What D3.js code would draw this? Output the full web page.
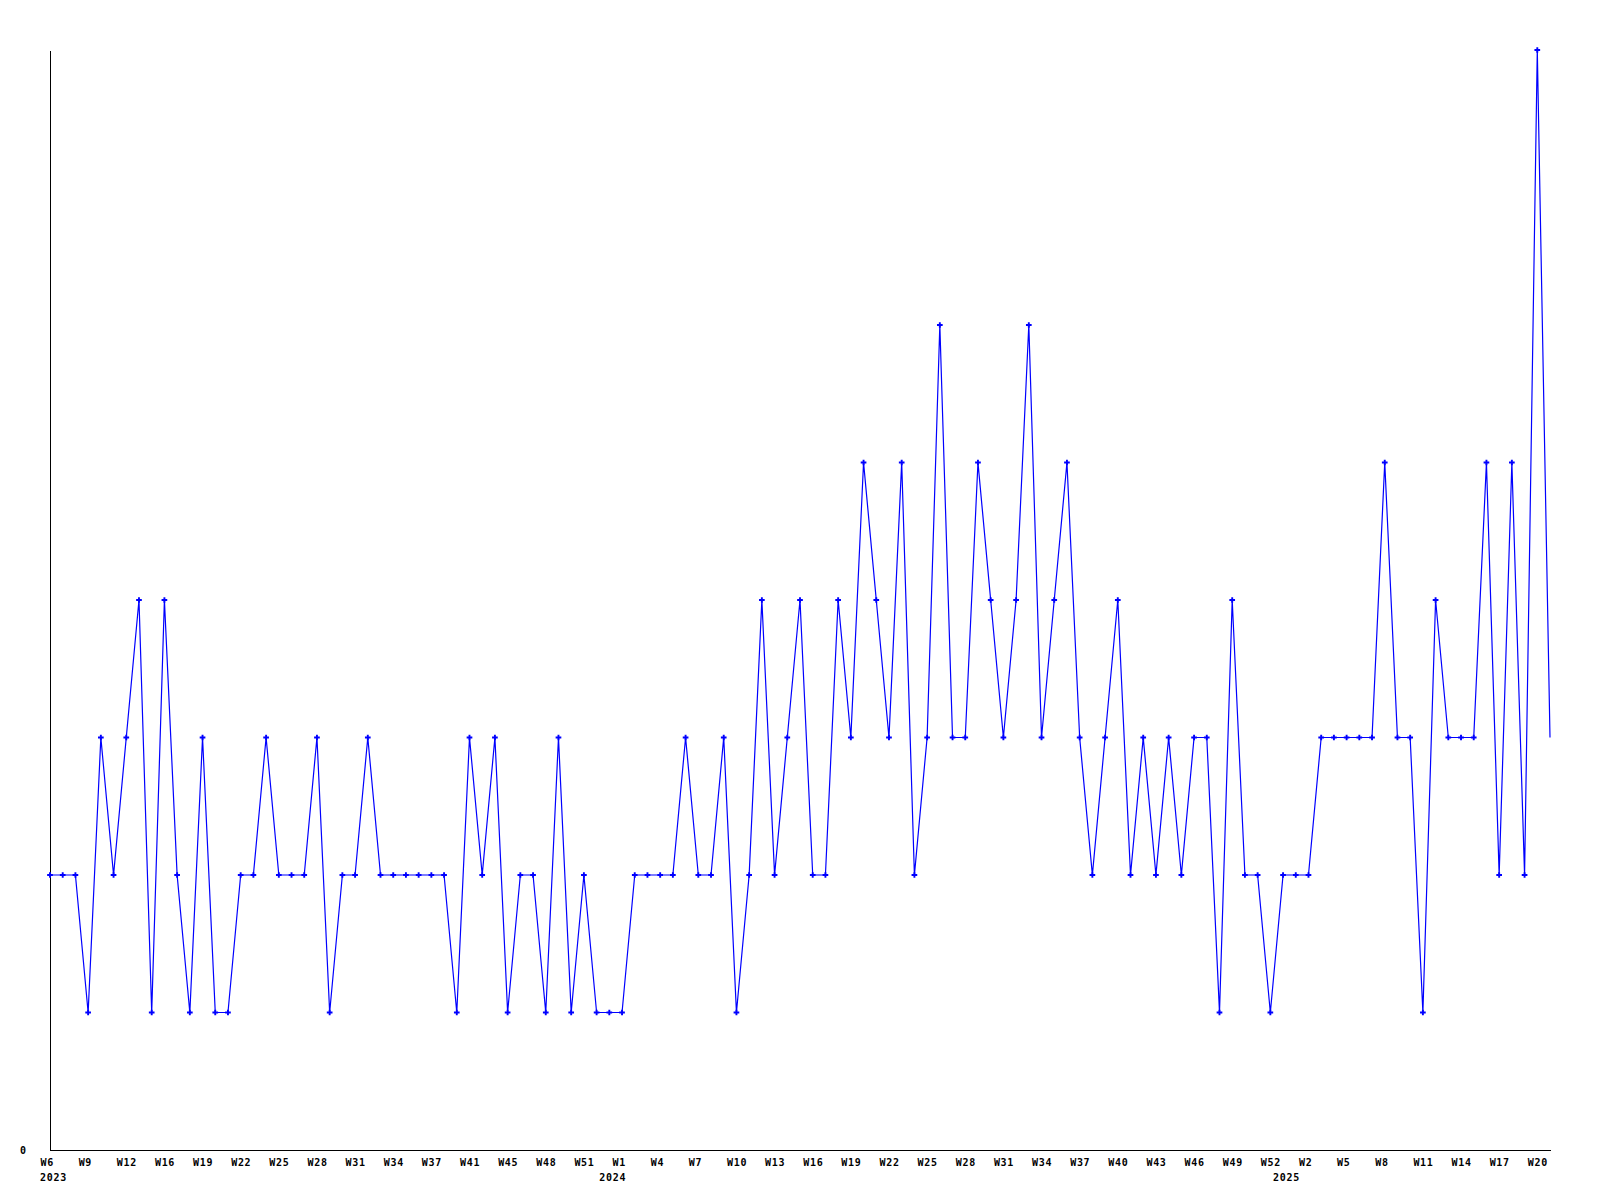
<!DOCTYPE html>
<html>
<head>
<meta charset="utf-8">
<script src="https://cdn.jsdelivr.net/npm/d3@7"></script>
<style>
  html, body { margin: 0; padding: 0; background: #ffffff; }
  svg { display: block; }
  text { font-family: "DejaVu Sans Mono", "Liberation Mono", monospace; font-weight: bold; font-size: 10px; letter-spacing: 0.7px; fill: #000; }
</style>
</head>
<body>
<script>
// Week numbers present in the data (weeks without counts are absent)
const weeks2023 = [6,7,8,9,10,11,12,13,14,16,17,18,19,20,21,22,23,24,25,26,27,28,29,30,31,32,33,34,35,36,37,38,39,41,42,43,45,46,47,48,49,50,51,52];
const weeks2024 = [0,1,2,3,4,5,6,7,8,9,10,11,12,13,14,15,16,17,18,19,20,21,22,23,24,25,26,27,28,29,30,31,32,33,34,35,36,37,38,39,40,41,42,43,44,45,46,47,48,49,50,51,52];
const weeks2025 = [0,1,2,3,4,5,6,7,8,9,10,11,12,13,14,15,16,17,18,19,20,21];
const years = ["2023", "2024", "2025"];

// Weekly counts, one per week above
const values = [
  2,2,2,1,3,2,3,4,1,4,
  2,1,3,1,1,2,2,3,2,2,
  2,3,1,2,2,3,2,2,2,2,
  2,2,1,3,2,3,1,2,2,1,
  3,1,2,1,1,1,2,2,2,2,
  3,2,2,3,1,2,4,2,3,4,
  2,2,4,3,5,4,3,5,2,3,
  6,3,3,5,4,3,4,6,3,4,
  5,3,2,3,4,2,3,2,3,2,
  3,3,1,4,2,2,1,2,2,2,
  3,3,3,3,3,5,3,3,1,4,
  3,3,3,5,2,5,2,8,3
];

const yTicks = [0];
const tickEvery = 3;

// Build category list
const weekLists = [weeks2023, weeks2024, weeks2025];
const categories = [];
weekLists.forEach((ws, yi) => ws.forEach((w, k) => categories.push({key: years[yi] + "-W" + w, week: w, year: years[yi], firstOfYear: k === 0})));
const data = categories.map((c, i) => ({cat: c.key, week: c.week, value: values[i]}));

const W = 1600, H = 1200;
const svg = d3.select("body").append("svg").attr("width", W).attr("height", H);

const x = d3.scalePoint().domain(categories.map(c => c.key)).range([50, 1550]);
const y = d3.scaleLinear().domain([0, 8]).range([1150, 50]);

// X axis
const tickKeys = categories.filter((c, i) => i % tickEvery === 0).map(c => c.key);
const xAxis = d3.axisBottom(x).tickValues(tickKeys).tickSize(0).tickSizeOuter(0)
  .tickFormat(k => "W" + categories.find(c => c.key === k).week);
const gx = svg.append("g").attr("transform", "translate(0,1150)").call(xAxis);
gx.attr("font-family", null).attr("font-size", null);
gx.select(".domain").attr("stroke", "#000").attr("stroke-width", 1).attr("shape-rendering", "crispEdges");
gx.selectAll(".tick text").attr("text-anchor", "start").attr("x", -10).attr("y", 16).attr("dy", null);

// Year labels under first week of each year
svg.append("g").selectAll("text").data(categories.filter(c => c.firstOfYear)).join("text")
  .attr("x", c => x(c.key) - 10).attr("y", 1181).text(c => c.year);

// Y axis
const yAxis = d3.axisLeft(y).tickValues(yTicks).tickSize(0).tickSizeOuter(0).tickFormat(d3.format("d"));
const gy = svg.append("g").attr("transform", "translate(50,0)").call(yAxis);
gy.attr("font-family", null).attr("font-size", null);
gy.select(".domain").attr("stroke", "#000").attr("stroke-width", 1).attr("shape-rendering", "crispEdges");
gy.selectAll(".tick text").attr("text-anchor", "start").attr("x", -30).attr("dy", "0.32em");

// Line
const line = d3.line().x(d => x(d.cat)).y(d => y(d.value));
svg.append("path").datum(data).attr("d", line)
  .attr("fill", "none").attr("stroke", "#0000ff").attr("stroke-width", 1.2);

// Markers (last point has none)
svg.append("g").selectAll("path").data(data.slice(0, data.length - 1)).join("path")
  .attr("transform", d => `translate(${x(d.cat)},${y(d.value)})`)
  .attr("d", d3.symbol(d3.symbolCross, 18))
  .attr("fill", "#0000ff");
</script>
</body>
</html>
